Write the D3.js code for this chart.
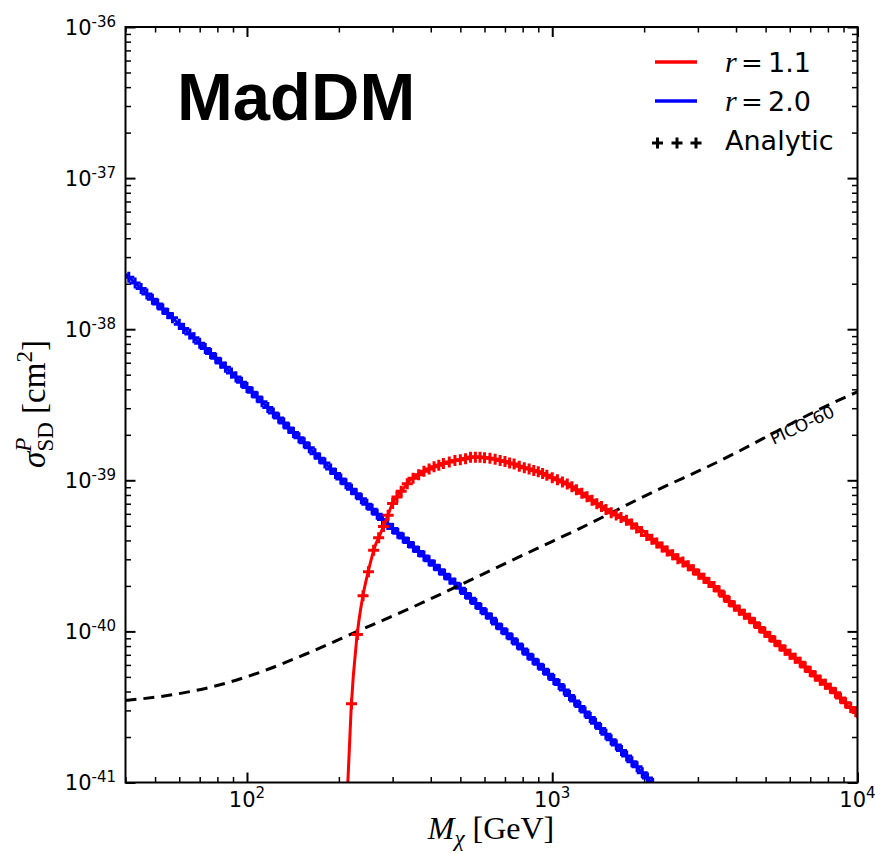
<!DOCTYPE html>
<html><head><meta charset="utf-8">
<script src="https://cdn.jsdelivr.net/npm/d3@7/dist/d3.min.js"></script>
<style>body{margin:0;background:#fff}</style>
</head><body><svg id="c" width="875" height="854"></svg>
<script>
// ---- data ----
const xTickValues = [100, 1000, 10000];
const xTickExp = ["2", "3", "4"];
const yTickValues = [1e-41, 1e-40, 1e-39, 1e-38, 1e-37, 1e-36];
const yTickExp = ["-41", "-40", "-39", "-38", "-37", "-36"];

// MadDM r = 1.1 (red solid line)
const madRedMass = [214, 219.5, 229, 239, 251, 262, 273, 287, 301, 322, 342, 369, 398, 429, 474, 551, 626, 710, 825, 912, 984, 1115, 1233, 1399, 1546, 1753, 1987, 2198, 2491, 2826, 3204, 3455, 3915, 4441, 5036, 5708, 6475, 7342, 8322, 9436, 10000];
const madRedSigma = [1.0e-41, 3.14e-41, 9.04e-41, 1.66e-40, 2.61e-40, 3.61e-40, 4.38e-40, 5.60e-40, 7.18e-40, 8.59e-40, 1.0e-39, 1.11e-39, 1.20e-39, 1.28e-39, 1.34e-39, 1.43e-39, 1.40e-39, 1.32e-39, 1.20e-39, 1.13e-39, 1.05e-39, 9.51e-40, 8.37e-40, 7.02e-40, 6.17e-40, 5.43e-40, 4.62e-40, 3.85e-40, 3.19e-40, 2.67e-40, 2.18e-40, 1.92e-40, 1.49e-40, 1.21e-40, 9.65e-41, 7.68e-41, 6.26e-41, 4.98e-41, 4.06e-41, 3.15e-41, 2.91e-41];

// MadDM r = 2.0 (blue solid line)
const madBlueMass = [40, 105.1, 287.2, 491.3, 1061, 2039, 2218];
const madBlueSigma = [2.32e-38, 3.75e-39, 5.16e-40, 1.995e-40, 4.39e-41, 1.08e-41, 9.05e-42];

// Analytic, r = 1.1 (red markers)
const anaRedMass = [220, 230, 240, 250, 260, 270, 280, 290, 300, 310, 320, 335, 350, 365, 380, 395, 410, 425, 440, 460, 480, 500, 520, 540, 560, 580, 600, 625, 650, 675, 700, 725, 750, 780, 810, 840, 870, 900, 930, 960, 1000, 1040, 1080, 1120, 1160, 1200, 1250, 1300, 1350, 1400, 1450, 1500, 1560, 1620, 1680, 1750, 1820, 1890, 1960, 2040, 2120, 2200, 2290, 2380, 2480, 2580, 2680, 2790, 2900, 3020, 3140, 3260, 3390, 3520, 3660, 3800, 3950, 4100, 4260, 4430, 4600, 4780, 4970, 5160, 5360, 5570, 5790, 6010, 6250, 6490, 6740, 7000, 7270, 7550, 7850, 8150, 8470, 8800, 9140, 9500, 9870, 10000];
const anaRedSigma = [3.32e-41, 9.53e-41, 1.72e-40, 2.48e-40, 3.44e-40, 4.17e-40, 4.95e-40, 5.87e-40, 7.03e-40, 7.76e-40, 8.47e-40, 9.48e-40, 1.03e-39, 1.09e-39, 1.15e-39, 1.19e-39, 1.23e-39, 1.26e-39, 1.29e-39, 1.32e-39, 1.35e-39, 1.37e-39, 1.39e-39, 1.42e-39, 1.42e-39, 1.42e-39, 1.41e-39, 1.40e-39, 1.38e-39, 1.35e-39, 1.33e-39, 1.30e-39, 1.28e-39, 1.24e-39, 1.21e-39, 1.19e-39, 1.16e-39, 1.14e-39, 1.11e-39, 1.08e-39, 1.04e-39, 1.01e-39, 9.75e-40, 9.46e-40, 9.06e-40, 8.67e-40, 8.22e-40, 7.78e-40, 7.38e-40, 7.00e-40, 6.70e-40, 6.41e-40, 6.11e-40, 5.89e-40, 5.68e-40, 5.45e-40, 5.13e-40, 4.84e-40, 4.58e-40, 4.31e-40, 4.07e-40, 3.85e-40, 3.62e-40, 3.41e-40, 3.21e-40, 3.03e-40, 2.88e-40, 2.72e-40, 2.56e-40, 2.39e-40, 2.25e-40, 2.11e-40, 1.98e-40, 1.85e-40, 1.71e-40, 1.58e-40, 1.47e-40, 1.38e-40, 1.30e-40, 1.22e-40, 1.14e-40, 1.06e-40, 9.89e-41, 9.25e-41, 8.61e-41, 8.03e-41, 7.50e-41, 7.06e-41, 6.64e-41, 6.24e-41, 5.82e-41, 5.43e-41, 5.07e-41, 4.75e-41, 4.47e-41, 4.20e-41, 3.92e-41, 3.63e-41, 3.37e-41, 3.13e-41, 2.94e-41, 2.91e-41];

// Analytic, r = 2.0 (blue markers)
const anaBlueMass = [41, 43, 45, 47, 49, 51, 53, 55, 57, 60, 62, 65, 67, 70, 73, 76, 79, 82, 85, 89, 92, 96, 100, 104, 108, 112, 117, 122, 127, 132, 137, 142, 148, 154, 160, 167, 173, 180, 188, 195, 203, 211, 220, 228, 237, 247, 257, 267, 278, 289, 300, 312, 325, 338, 351, 365, 380, 395, 411, 427, 444, 462, 480, 500, 520, 540, 562, 584, 608, 632, 657, 683, 711, 739, 769, 800, 832, 865, 900, 936, 973, 1012, 1053, 1095, 1139, 1184, 1232, 1281, 1332, 1386, 1441, 1499, 1559, 1621, 1686, 1753, 1824, 1896, 1972, 2051, 2133, 2218];
const anaBlueSigma = [2.21e-38, 2.02e-38, 1.86e-38, 1.71e-38, 1.58e-38, 1.47e-38, 1.36e-38, 1.27e-38, 1.19e-38, 1.08e-38, 1.01e-38, 9.28e-39, 8.77e-39, 8.07e-39, 7.46e-39, 6.90e-39, 6.43e-39, 5.98e-39, 5.60e-39, 5.13e-39, 4.82e-39, 4.45e-39, 4.12e-39, 3.82e-39, 3.56e-39, 3.31e-39, 3.03e-39, 2.79e-39, 2.58e-39, 2.39e-39, 2.22e-39, 2.07e-39, 1.91e-39, 1.77e-39, 1.64e-39, 1.50e-39, 1.40e-39, 1.30e-39, 1.19e-39, 1.11e-39, 1.02e-39, 9.48e-40, 8.73e-40, 8.14e-40, 7.55e-40, 6.95e-40, 6.43e-40, 5.96e-40, 5.51e-40, 5.11e-40, 4.79e-40, 4.46e-40, 4.15e-40, 3.87e-40, 3.62e-40, 3.38e-40, 3.15e-40, 2.94e-40, 2.74e-40, 2.56e-40, 2.39e-40, 2.22e-40, 2.08e-40, 1.93e-40, 1.78e-40, 1.66e-40, 1.53e-40, 1.42e-40, 1.31e-40, 1.22e-40, 1.12e-40, 1.04e-40, 9.64e-41, 8.93e-41, 8.26e-41, 7.64e-41, 7.07e-41, 6.55e-41, 6.06e-41, 5.61e-41, 5.20e-41, 4.81e-41, 4.45e-41, 4.09e-41, 3.77e-41, 3.46e-41, 3.18e-41, 2.93e-41, 2.69e-41, 2.47e-41, 2.28e-41, 2.09e-41, 1.92e-41, 1.77e-41, 1.63e-41, 1.50e-41, 1.37e-41, 1.27e-41, 1.16e-41, 1.07e-41, 9.84e-42, 9.05e-42];

// PICO-60 limit (black dashed)
const picoMass = [40, 56.1, 78.7, 110.5, 155.2, 229.7, 378.5, 491.7, 889.9, 1233, 2198, 3204, 9436, 10000];
const picoSigma = [3.49e-41, 3.79e-41, 4.35e-41, 5.37e-41, 7.06e-41, 1.00e-40, 1.56e-40, 2.00e-40, 3.53e-40, 4.81e-40, 8.59e-40, 1.22e-39, 3.66e-39, 3.85e-39];

const legendLabels = ["1.1", "2.0", "Analytic"];

// ---- layout ----
const X0 = 125.5, X1 = 857.5, Y0 = 27, Y1 = 782.5;
const x = d3.scaleLog().domain([40, 1e4]).range([X0, X1]);
const y = d3.scaleLog().domain([1e-41, 1e-36]).range([Y1, Y0]);

const svg = d3.select("#c");
svg.append("rect").attr("width", 875).attr("height", 854).attr("fill", "#fff");
svg.append("defs").append("clipPath").attr("id", "clip")
  .append("rect").attr("x", X0).attr("y", Y0).attr("width", X1 - X0).attr("height", Y1 - Y0);

// minor tick values
const xMinor = [];
[10, 100, 1000].forEach(d => [2,3,4,5,6,7,8,9].forEach(k => { const v = k*d; if (v >= 40 && v <= 1e4) xMinor.push(v); }));
const yMinor = [];
[-41, -40, -39, -38, -37].forEach(e => [2,3,4,5,6,7,8,9].forEach(k => yMinor.push(k * Math.pow(10, e))));

function addAxis(gen, sc, vals, size, sw, tr) {
  const g = svg.append("g").attr("transform", tr)
    .call(gen(sc).tickValues(vals).tickSize(-size).tickSizeOuter(0).tickFormat(() => ""));
  g.select(".domain").remove();
  g.selectAll(".tick line").attr("stroke", "#000").attr("stroke-width", sw);
}
[[xTickValues, 10, 2], [xMinor, 5.5, 1.5]].forEach(([v, s, w]) => {
  addAxis(d3.axisBottom, x, v, s, w, `translate(0,${Y1})`);
  addAxis(d3.axisTop, x, v, s, w, `translate(0,${Y0})`);
});
[[yTickValues, 10, 2], [yMinor, 5.5, 1.5]].forEach(([v, s, w]) => {
  addAxis(d3.axisLeft, y, v, s, w, `translate(${X0},0)`);
  addAxis(d3.axisRight, y, v, s, w, `translate(${X1},0)`);
});

// tick labels
xTickValues.forEach((v, i) => {
  const t = svg.append("text").attr("x", x(v)).attr("y", 807).attr("text-anchor", "middle")
    .attr("font-family", "DejaVu Sans").attr("font-size", 21).attr("fill", "#000");
  t.append("tspan").text("10");
  t.append("tspan").attr("font-size", 15).attr("dy", -9).text(xTickExp[i]);
});
yTickValues.forEach((v, i) => {
  const t = svg.append("text").attr("x", 116).attr("y", y(v) + 7.5).attr("text-anchor", "end")
    .attr("font-family", "DejaVu Sans").attr("font-size", 21).attr("fill", "#000");
  t.append("tspan").text("10");
  t.append("tspan").attr("font-size", 15).attr("dy", -8).text(yTickExp[i]);
});

// axis titles
const xl = svg.append("text").attr("x", 491).attr("y", 839).attr("text-anchor", "middle")
  .attr("font-family", "Liberation Serif").attr("font-size", 32).attr("fill", "#000");
xl.append("tspan").attr("font-style", "italic").text("M");
xl.append("tspan").attr("font-style", "italic").attr("font-size", 23).attr("dy", 7).text("χ");
xl.append("tspan").attr("dy", -7).text(" [GeV]");

const yl = svg.append("text").attr("transform", "translate(45,404) rotate(-90)").attr("text-anchor", "middle")
  .attr("font-family", "Liberation Serif").attr("font-size", 33).attr("fill", "#000");
yl.append("tspan").attr("font-style", "italic").text("σ");
yl.append("tspan").attr("font-style", "italic").attr("font-size", 23).attr("dy", -14).text("P");
yl.append("tspan").attr("font-size", 23).attr("dx", -14).attr("dy", 22).text("SD");
yl.append("tspan").attr("dy", -8).text(" [cm");
yl.append("tspan").attr("font-size", 23).attr("dy", -13).text("2");
yl.append("tspan").attr("dy", 13).text("]");

// ---- data marks ----
const plot = svg.append("g").attr("clip-path", "url(#clip)");
const lineGen = (ms, ss, curve) => d3.line().curve(curve).x((d, i) => x(ms[i])).y((d, i) => y(ss[i]))(ms);
const cross = "M-5.5,0H5.5M0,-5.5V5.5";
function markers(ms, ss, color) {
  plot.append("g").selectAll("path").data(ms).join("path")
    .attr("transform", (d, i) => `translate(${x(d)},${y(ss[i])})`)
    .attr("d", cross).attr("stroke", color).attr("stroke-width", 3).attr("fill", "none");
}

// blue
plot.append("path").attr("d", lineGen(madBlueMass, madBlueSigma, d3.curveLinear))
  .attr("fill", "none").attr("stroke", "#0000ff").attr("stroke-width", 3);
markers(anaBlueMass, anaBlueSigma, "#0000ff");

// PICO-60 dashed
plot.append("path").attr("d", lineGen(picoMass, picoSigma, d3.curveMonotoneX))
  .attr("fill", "none").attr("stroke", "#000").attr("stroke-width", 3).attr("stroke-dasharray", "11,7");

// red
plot.append("path").attr("d", lineGen(madRedMass, madRedSigma, d3.curveMonotoneX))
  .attr("fill", "none").attr("stroke", "#ff0000").attr("stroke-width", 3);
markers(anaRedMass, anaRedSigma, "#ff0000");

svg.append("text").attr("transform", "translate(802,425) rotate(-25)").attr("text-anchor", "middle")
  .attr("dominant-baseline", "central").attr("font-family", "DejaVu Sans").attr("font-size", 17)
  .attr("fill", "#000").text("PICO-60");

// frame
svg.append("rect").attr("x", X0).attr("y", Y0).attr("width", X1 - X0).attr("height", Y1 - Y0)
  .attr("fill", "none").attr("stroke", "#000").attr("stroke-width", 2);

// title
svg.append("text").attr("x", 177).attr("y", 120).attr("font-family", "Liberation Sans")
  .attr("font-weight", "bold").attr("font-size", 67).attr("fill", "#000").text("MadDM");

// legend
const lg = svg.append("g");
[["#ff0000", 62, 72, legendLabels[0]], ["#0000ff", 101, 111, legendLabels[1]]].forEach(([c, ly, by, lab]) => {
  lg.append("line").attr("x1", 655).attr("x2", 697).attr("y1", ly).attr("y2", ly)
    .attr("stroke", c).attr("stroke-width", 3.5);
  const t = lg.append("text").attr("y", by).attr("fill", "#000");
  t.append("tspan").attr("x", 725).attr("font-family", "Liberation Serif").attr("font-style", "italic").attr("font-size", 30).text("r");
  t.append("tspan").attr("x", 741).attr("font-family", "DejaVu Serif").attr("font-size", 26).text("=");
  t.append("tspan").attr("x", 768).attr("font-family", "DejaVu Sans").attr("font-size", 27).text(lab);
});
[657.5, 677, 696].forEach(mx => {
  lg.append("path").attr("transform", `translate(${mx},143)`).attr("d", cross)
    .attr("stroke", "#000").attr("stroke-width", 3).attr("fill", "none");
});
lg.append("text").attr("x", 725).attr("y", 150).attr("font-family", "DejaVu Sans").attr("font-size", 27)
  .attr("fill", "#000").text(legendLabels[2]);
</script>
</body></html>
